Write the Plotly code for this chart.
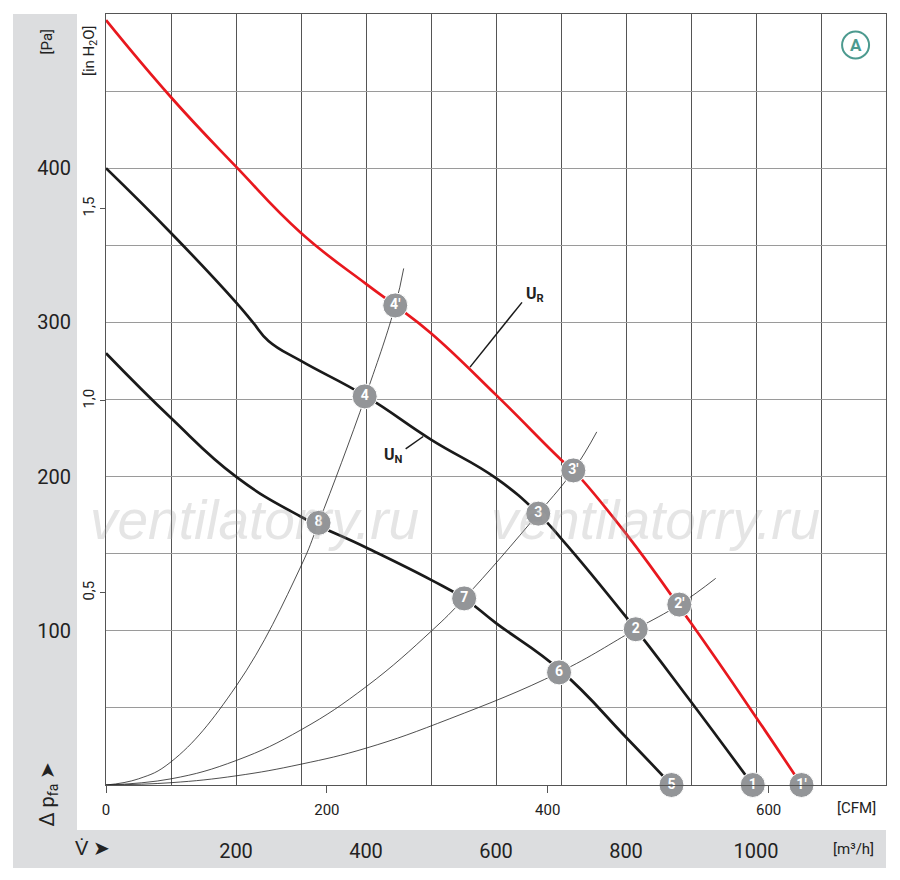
import plotly.graph_objects as go

# fan curves, volume flow in m3/h, static pressure in Pa
flow_ur = [0, 100, 200, 300, 400, 445, 500, 600, 700, 719, 800, 900, 1000, 1070]
dp_ur = [496, 446, 401, 358, 325, 311, 293, 253, 211, 204, 163, 105, 44, 0]

flow_un = [0, 100, 200, 226, 250, 300, 400, 500, 600, 665, 700, 800, 900, 995]
dp_un = [400, 358, 313, 300, 288, 275, 252, 224, 199, 176, 160, 109, 54, 0]

flow_low = [0, 100, 200, 300, 400, 500, 551, 600, 700, 800, 870]
dp_low = [280, 238, 200, 174, 154, 133, 121, 105, 74, 31, 0]

# system (resistance) curves
flow_sys_a = [0, 50, 100, 200, 300, 327, 400, 445, 458]
dp_sys_a = [0, 4, 15, 64, 142, 170, 253, 311, 335]
flow_sys_b = [0, 100, 201, 301, 401, 501, 551, 665, 719, 755]
dp_sys_b = [0, 4, 16, 36, 64, 100, 121, 176, 204, 229]
flow_sys_c = [0, 100, 201, 300, 401, 529, 697, 815, 882, 938]
dp_sys_c = [0, 1.5, 6, 13.5, 24, 43, 73, 101, 117, 134]

# operating points
point_names = ["1", "2", "3", "4", "1'", "2'", "3'", "4'", "5", "6", "7", "8"]
point_flow = [995, 815, 665, 398, 1070, 882, 719, 445, 870, 697, 551, 327]
point_dp = [0, 101, 176, 252, 0, 117, 204, 311, 0, 73, 121, 170]

# axis ticks
m3h_ticks = list(range(0, 1201, 100))
m3h_labels = ["" if v % 200 or v in (0, 1200) else str(v) for v in m3h_ticks]
pa_ticks = list(range(0, 501, 50))
pa_labels = [str(v) if v in (100, 200, 300, 400) else "" for v in pa_ticks]
cfm_ticks = [0, 200, 400, 600]
inh2o_ticks = [0.5, 1.0, 1.5]
inh2o_labels = ["0,5", "1,0", "1,5"]

M3H_TO_CFM = 0.588578
PA_TO_INH2O = 0.0040146
FONT = "Liberation Sans Narrow, Roboto, Liberation Sans, sans-serif"

fig = go.Figure()

for fx, fy in [(flow_sys_a, dp_sys_a), (flow_sys_b, dp_sys_b), (flow_sys_c, dp_sys_c)]:
    fig.add_trace(go.Scatter(x=fx, y=fy, mode="lines",
                             line=dict(color="#222222", width=0.8, shape="spline", smoothing=1.2),
                             hoverinfo="skip"))

fig.add_trace(go.Scatter(x=flow_low, y=dp_low, mode="lines",
                         line=dict(color="#1a1a1a", width=2.7, shape="spline", smoothing=1.3)))
fig.add_trace(go.Scatter(x=flow_un, y=dp_un, mode="lines",
                         line=dict(color="#1a1a1a", width=2.7, shape="spline", smoothing=1.3)))
fig.add_trace(go.Scatter(x=flow_ur, y=dp_ur, mode="lines",
                         line=dict(color="#e8181e", width=2.7, shape="spline", smoothing=1.3)))

fig.add_trace(go.Scatter(x=point_flow, y=point_dp, mode="markers+text",
                         text=point_names, textposition="middle center",
                         textfont=dict(color="white", size=14, family=FONT, weight="bold"),
                         marker=dict(size=25, color="#939598", line=dict(color="white", width=1)),
                         cliponaxis=False))

# empty traces so the secondary unit axes get drawn
fig.add_trace(go.Scatter(x=[], y=[], xaxis="x2", yaxis="y"))
fig.add_trace(go.Scatter(x=[], y=[], xaxis="x", yaxis="y2"))

fig.update_layout(
    width=892, height=872,
    margin=dict(l=98, r=14, t=6, b=95),
    paper_bgcolor="white", plot_bgcolor="white",
    showlegend=False,
    font=dict(family=FONT, color="#222222"),
    xaxis=dict(range=[0, 1200], tickvals=m3h_ticks, ticktext=m3h_labels,
               showgrid=True, gridcolor="#555555", gridwidth=1, zeroline=False,
               showline=True, linecolor="#555555", mirror=True, ticks="",
               tickfont=dict(size=20), ticklabelstandoff=48),
    xaxis2=dict(range=[0, 1200 * M3H_TO_CFM], overlaying="x", anchor="y", side="bottom",
                tickvals=cfm_ticks, ticks="outside", ticklen=7, tickcolor="#555555",
                showgrid=False, zeroline=False, tickfont=dict(size=15), ticklabelstandoff=4),
    yaxis=dict(range=[0, 500], tickvals=pa_ticks, ticktext=pa_labels,
               showgrid=True, gridcolor="#9a9a9a", gridwidth=1.2, zeroline=False,
               showline=True, linecolor="#555555", mirror=True, ticks="",
               tickfont=dict(size=20), ticklabelstandoff=30),
    yaxis2=dict(range=[0, 500 * PA_TO_INH2O], overlaying="y", anchor="x", side="left",
                tickvals=inh2o_ticks, ticktext=inh2o_labels, ticks="outside", ticklen=5,
                tickcolor="#555555", tickangle=-90, showgrid=False, zeroline=False,
                tickfont=dict(size=15)),
)

# gray bands around the chart
band = "#dcdddf"
fig.add_shape(type="rect", xref="paper", yref="paper", x0=-0.1192, x1=-0.0372, y0=-0.1077, y1=1.0,
              fillcolor=band, line_width=0, layer="below")
fig.add_shape(type="rect", xref="paper", yref="paper", x0=-0.1192, x1=1.0, y0=-0.1077, y1=-0.0584,
              fillcolor=band, line_width=0, layer="below")


def note(x, y, text, size=15, angle=0, color="#222222", xref="paper", yref="paper"):
    fig.add_annotation(xref=xref, yref=yref, x=x, y=y, text=text, textangle=angle,
                       showarrow=False, xanchor="center", yanchor="middle",
                       font=dict(size=size, color=color))


# circled A
fig.add_shape(type="circle", xref="paper", yref="paper", xsizemode="pixel", ysizemode="pixel",
              xanchor=0.961, yanchor=0.9598, x0=-13.5, x1=13.5, y0=-13.5, y1=13.5,
              line=dict(color="#4c9a8f", width=2))
note(0.961, 0.9598, "<b>A</b>", size=17, color="#4c9a8f")

# curve labels with leader lines
fig.add_shape(type="line", x0=640, y0=313, x1=560, y1=271, line=dict(color="#1a1a1a", width=1.5))
note(660, 318, "<b>U<sub>R</sub></b>", size=16, xref="x", yref="y")
fig.add_shape(type="line", x0=461, y0=218, x1=488, y1=226, line=dict(color="#1a1a1a", width=1.5))
note(443, 214, "<b>U<sub>N</sub></b>", size=16, xref="x", yref="y")

# unit labels
note(-0.076, 0.964, "[Pa]", angle=-90)
note(-0.0205, 0.952, "[in H<sub>2</sub>O]", angle=-90)
note(0.962, -0.030, "[CFM]")
note(0.958, -0.083, "[m³/h]")
note(-0.074, -0.012, "Δ p<sub>fa</sub> ➤", size=20, angle=-90)
note(-0.017, -0.082, "V̇ ➤", size=20)

# watermark
for wx in [0.191, 0.704]:
    fig.add_annotation(xref="paper", yref="paper", x=wx, y=0.344, text="<i>ventilatorry.ru</i>",
                       showarrow=False, xanchor="center", yanchor="middle",
                       font=dict(size=55, color="rgba(160,160,160,0.28)",
                                 family="Liberation Sans, sans-serif"))

fig.write_html("out.html")
